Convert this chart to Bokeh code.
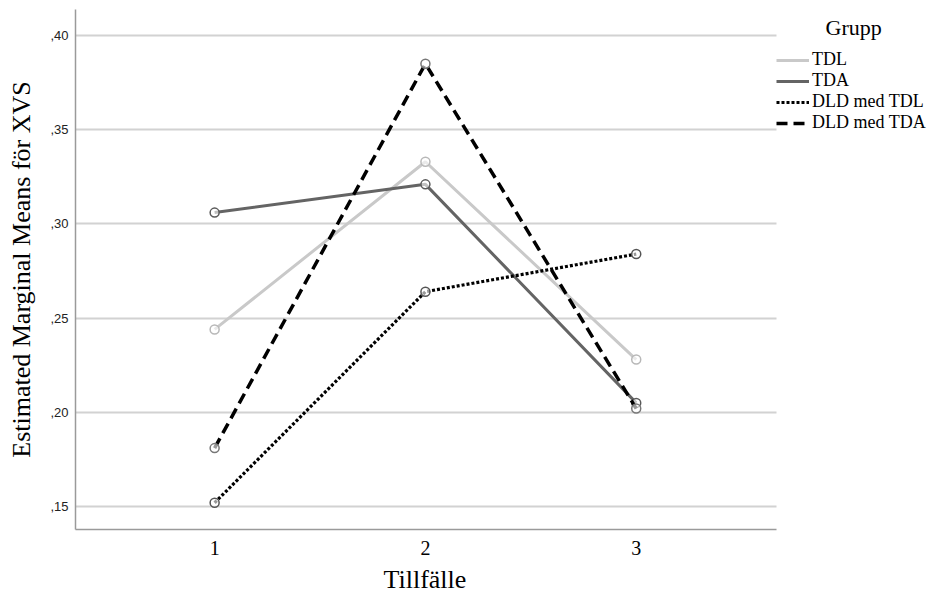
from bokeh.plotting import figure
from bokeh.models import (FixedTicker, CustomJSTickFormatter, Legend, LegendItem,
                          Range1d, Title)
from bokeh.embed import file_html
from bokeh.resources import INLINE

# ---- data ----
tillfalle = [1, 2, 3]
tdl = [0.244, 0.333, 0.228]
tda = [0.306, 0.321, 0.205]
dld_tdl = [0.152, 0.264, 0.284]
dld_tda = [0.181, 0.385, 0.202]
series_names = ["TDL", "TDA", "DLD med TDL", "DLD med TDA"]
y_ticks = [0.15, 0.20, 0.25, 0.30, 0.35, 0.40]
y_tick_labels = [",15", ",20", ",25", ",30", ",35", ",40"]
x_ticks = [1, 2, 3]
x_tick_labels = ["1", "2", "3"]
legend_title = "Grupp"
x_title = "Tillfälle"
y_title = "Estimated Marginal Means för XVS"

SERIF = "Liberation Serif"
SANS = "Liberation Sans"

X_LO, X_HI = 0.34, 3.665          # extent of the drawn axis / grid
X_VIEW_HI = 4.4055                # frame extends under the legend

p = figure(width=932, height=603, output_backend="svg", toolbar_location=None,
           x_range=Range1d(X_LO, X_VIEW_HI), y_range=Range1d(0.1378, 0.4138),
           min_border_left=75, min_border_right=0, min_border_top=9,
           min_border_bottom=74)
p.outline_line_color = None
p.background_fill_color = "white"
p.border_fill_color = "white"

# grid
p.xgrid.visible = False
yg = p.ygrid[0]
yg.grid_line_color = "#d2d2d2"
yg.grid_line_width = 2
yg.ticker = FixedTicker(ticks=y_ticks)
if "cross_bounds" in yg.properties():
    yg.cross_bounds = (X_LO, X_HI)

# axes
for ax in (p.xaxis[0], p.yaxis[0]):
    ax.axis_line_color = "#9a9a9a"
    ax.axis_line_width = 1.5
    ax.major_tick_out = 0
    ax.major_tick_in = 0
    ax.minor_tick_out = 0
    ax.minor_tick_in = 0
    ax.axis_label_text_font = SERIF
    ax.axis_label_text_font_style = "normal"
    ax.axis_label_text_font_size = "26px"
    ax.axis_label_text_color = "black"

p.yaxis.ticker = FixedTicker(ticks=y_ticks)
p.yaxis.formatter = CustomJSTickFormatter(
    args=dict(vals=y_ticks, labs=y_tick_labels),
    code="for (let i = 0; i < vals.length; i++) { if (Math.abs(vals[i] - tick) < 1e-9) return labs[i]; } return '';")
p.yaxis.major_label_text_font = SANS
p.yaxis.major_label_text_font_size = "13px"
p.yaxis.major_label_text_color = "#222222"
p.yaxis.major_label_standoff = 7
p.yaxis.axis_label = y_title
p.yaxis.axis_label_standoff = 11

p.xaxis.ticker = FixedTicker(ticks=x_ticks)
p.xaxis.bounds = (X_LO, X_HI)
p.xaxis.major_label_overrides = dict(zip(x_ticks, x_tick_labels))
p.xaxis.major_label_text_font = SERIF
p.xaxis.major_label_text_font_size = "20px"
p.xaxis.major_label_text_color = "black"
p.xaxis.major_label_standoff = 11

# x-axis title, centred under the drawn axis (not the whole frame)
x_title_obj = Title(text=x_title, align="left", offset=308,
                    vertical_align="bottom",
                    text_font=SERIF, text_font_size="26px",
                    text_font_style="normal", text_color="black", standoff=10)
p.add_layout(x_title_obj, "below")

# series
styles = [
    dict(color="#c9c9c9", width=3, dash="solid", mk="#b8b8b8"),
    dict(color="#646464", width=3, dash="solid", mk="#5a5a5a"),
    dict(color="black", width=3.2, dash="3 2", mk="#555555"),
    dict(color="black", width=3.5, dash="11 6", mk="#777777"),
]
values = [tdl, tda, dld_tdl, dld_tda]

items = []
for name, vals, st in zip(series_names, values, styles):
    r = p.line(tillfalle, vals, line_color=st["color"], line_width=st["width"],
               line_dash=st["dash"])
    p.scatter(tillfalle, vals, marker="circle", size=9, fill_color="white",
              fill_alpha=0.6, line_color=st["mk"], line_width=1.5)
    items.append(LegendItem(label=name, renderers=[r]))

legend = Legend(items=items, location=(701, 396), orientation="vertical",
                title="\u00a0" * 9 + legend_title,
                title_text_font=SERIF, title_text_font_size="22px",
                title_text_font_style="normal", title_text_color="black",
                title_standoff=8,
                padding=2, margin=0, spacing=0, glyph_width=33, glyph_height=20,
                label_height=20, label_standoff=3,
                label_text_font=SERIF, label_text_font_size="18px",
                label_text_color="black", background_fill_alpha=0,
                border_line_color=None)
p.add_layout(legend, "center")

open("out.html", "w").write(file_html(p, INLINE))
